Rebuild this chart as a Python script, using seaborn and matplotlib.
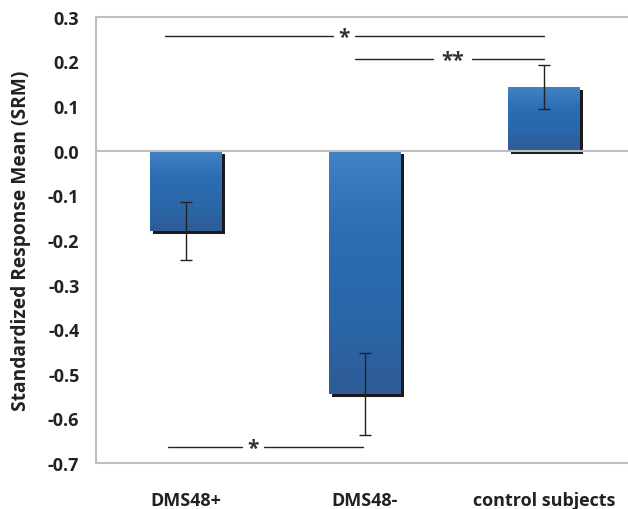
import numpy as np
import pandas as pd
import seaborn as sns
import matplotlib.pyplot as plt
import matplotlib.patheffects as pe
from matplotlib.colors import LinearSegmentedColormap

groups = ['DMS48+', 'DMS48-', 'control subjects']
srm = [-0.18, -0.545, 0.143]
srm_err = [0.065, 0.092, 0.05]
yticks = [-0.7, -0.6, -0.5, -0.4, -0.3, -0.2, -0.1, 0.0, 0.1, 0.2, 0.3]

# significance brackets: (x start, x end, y, label, label x, half gap)
sig_lines = [(-0.115, 2.0, 0.258, '*', 0.885, 0.062),
             (0.947, 2.0, 0.206, '**', 1.49, 0.11),
             (-0.098, 0.99, -0.664, '*', 0.377, 0.06)]

df = pd.DataFrame({'group': groups, 'srm': srm})

sns.set_style('white')
plt.rcParams['font.family'] = ['Open Sans', 'DejaVu Sans']

fig = plt.figure(figsize=(6.28, 5.10), dpi=100)
ax = fig.add_axes([0.153, 0.090, 0.856, 0.875])

sns.barplot(data=df, x='group', y='srm', color='#3a76bb', width=0.4,
            errorbar=None, linewidth=0, ax=ax, zorder=3)

# gradient fill + dark shadow
cmap = LinearSegmentedColormap.from_list(
    'bar', ['#4281c4', '#2c6db3', '#2a67aa', '#2e5c97'])
for p in ax.patches:
    p.set_linewidth(0)
    p.set_path_effects([pe.SimplePatchShadow(offset=(2.2, -2.2), shadow_rgbFace='#1a1a1a', alpha=1.0),
                        pe.Normal()])
    x0, y0 = p.get_x(), p.get_y()
    w, h = p.get_width(), p.get_height()
    lo, hi = min(y0, y0 + h), max(y0, y0 + h)
    grad = np.linspace(0, 1, 100).reshape(-1, 1)
    im = ax.imshow(grad, cmap=cmap, aspect='auto', origin='upper',
                   extent=[x0, x0 + w, lo, hi], zorder=4)
    im.set_clip_path(p)

ax.errorbar(range(len(groups)), srm, yerr=srm_err, fmt='none', ecolor='#222222',
            elinewidth=1, capsize=4, capthick=1, zorder=6)

ax.axhline(0, color='#bfbfbf', lw=1.5, zorder=5)

for x1, x2, y, lab, lx, gap in sig_lines:
    ax.plot([x1, lx - gap], [y, y], color='#222222', lw=1, zorder=5)
    ax.plot([lx + gap, x2], [y, y], color='#222222', lw=1, zorder=5)
    ax.text(lx, y - 0.004, lab, ha='center', va='center', fontsize=15, fontweight='bold',
            color='#333333', zorder=6)

ax.set_xlim(-0.5, 2.5)
ax.set_ylim(-0.7, 0.3)
ax.set_yticks(yticks)
ax.set_yticklabels([f'{v:.1f}' for v in yticks])
ax.tick_params(axis='y', length=0, pad=12, labelsize=13)
ax.tick_params(axis='x', length=0, pad=20, labelsize=13)
for lbl in ax.get_xticklabels() + ax.get_yticklabels():
    lbl.set_fontweight('bold')
    lbl.set_color('#222222')

ax.set_xlabel('')
ax.set_ylabel('Standardized Response Mean (SRM)', fontsize=13.8, fontweight='bold',
              color='#222222', labelpad=12)

for s in ['left', 'top', 'bottom']:
    ax.spines[s].set_color('#bfbfbf')
    ax.spines[s].set_linewidth(1.5)
ax.spines['right'].set_visible(False)

fig.savefig('out.png', dpi=100)
